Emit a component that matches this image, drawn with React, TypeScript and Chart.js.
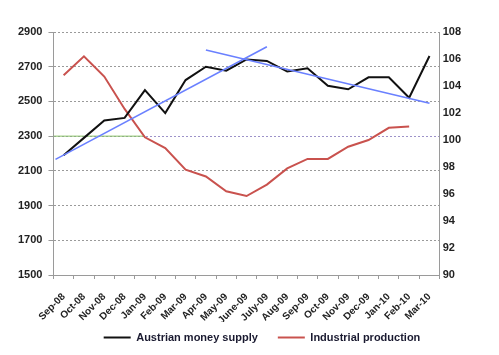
import React, { useEffect, useRef } from "react";
import { Chart, registerables } from "chart.js";

Chart.register(...registerables);

const categories = [
  "Sep-08", "Oct-08", "Nov-08", "Dec-08", "Jan-09", "Feb-09", "Mar-09", "Apr-09",
  "May-09", "June-09", "July-09", "Aug-09", "Sep-09", "Oct-09", "Nov-09", "Dec-09",
  "Jan-10", "Feb-10", "Mar-10",
];

const moneySupply = [
  2190, 2290, 2390, 2405, 2565, 2433, 2623, 2700, 2677, 2742, 2733, 2672, 2691,
  2590, 2570, 2639, 2639, 2521, 2762,
];

const industrialProduction = [
  104.8, 106.2, 104.7, 102.3, 100.2, 99.4, 97.8, 97.3, 96.2, 95.85, 96.7, 97.9,
  98.6, 98.6, 99.5, 100.0, 100.9, 101.0, null,
];

// trend lines (x = category index position, y = money supply)
const trendUp = [
  { x: -0.4, y: 2166 },
  { x: 10, y: 2815 },
];
const trendDown = [
  { x: 7, y: 2796 },
  { x: 18, y: 2490 },
];
const greenBase = [
  { x: -0.5, y: 2300 },
  { x: 4, y: 2300 },
];

const leftTicks = { min: 1500, max: 2900, step: 200 };
const rightTicks = { min: 90, max: 108, step: 2 };

const FONT = "'Liberation Sans', Arial, sans-serif";

const legendShift = {
  id: "legendShift",
  afterLayout(chart: any) {
    const l = chart.legend;
    if (!l) return;
    l.left += 24;
    l.right += 24;
    l.top -= 10;
    l.bottom -= 10;
  },
};

export default function App() {
  const ref = useRef<HTMLCanvasElement | null>(null);

  useEffect(() => {
    if (!ref.current) return;
    const chart = new Chart(ref.current, {
      type: "line",
      plugins: [legendShift],
      data: {
        labels: categories,
        datasets: [
          {
            label: "trend1",
            data: trendUp as any,
            xAxisID: "x2",
            yAxisID: "y",
            borderColor: "#6a80ff",
            borderWidth: 1.6,
            pointRadius: 0,
          },
          {
            label: "trend2",
            data: trendDown as any,
            xAxisID: "x2",
            yAxisID: "y",
            borderColor: "#6a80ff",
            borderWidth: 1.6,
            pointRadius: 0,
          },
          {
            label: "Austrian money supply",
            data: moneySupply,
            xAxisID: "x",
            yAxisID: "y",
            borderColor: "#111111",
            backgroundColor: "#111111",
            borderWidth: 2,
            pointRadius: 0,
          },
          {
            label: "Industrial production",
            data: industrialProduction,
            xAxisID: "x",
            yAxisID: "y1",
            borderColor: "#c9524e",
            backgroundColor: "#c9524e",
            borderWidth: 2,
            pointRadius: 0,
          },
          {
            label: "base",
            data: greenBase as any,
            xAxisID: "x2",
            yAxisID: "y",
            borderColor: "#86c060",
            borderWidth: 1,
            pointRadius: 0,
          },
        ],
      },
      options: {
        animation: false,
        responsive: false,
        maintainAspectRatio: false,
        layout: { padding: { left: 12, right: 35, top: 32, bottom: 0 } },
        plugins: {
          tooltip: { enabled: false },
          legend: {
            position: "bottom",
            maxHeight: 33,
            labels: {
              filter: (item) =>
                item.text === "Austrian money supply" || item.text === "Industrial production",
              usePointStyle: true,
              pointStyle: "line",
              pointStyleWidth: 27,
              padding: 20,
              color: "#1a1a30",
              font: { family: FONT, size: 11, weight: "bold" },
            },
          },
        },
        scales: {
          x: {
            type: "category",
            offset: true,
            afterFit: (scale: any) => {
              scale.height = 47;
            },
            grid: {
              display: true,
              drawOnChartArea: false,
              drawTicks: true,
              tickLength: 4,
              offset: true,
              color: "#9a9a9a",
            },
            border: { color: "#9a9a9a" },
            ticks: {
              autoSkip: false,
              minRotation: 45,
              maxRotation: 45,
              padding: 12,
              color: "#222",
              font: { family: FONT, size: 10, weight: "bold" },
            },
          },
          x2: {
            type: "linear",
            display: false,
            min: -0.5,
            max: categories.length - 0.5,
          },
          y: {
            type: "linear",
            position: "left",
            min: leftTicks.min,
            max: leftTicks.max,
            ticks: {
              stepSize: leftTicks.step,
              padding: 6,
              color: "#222",
              font: { family: FONT, size: 11, weight: "bold" },
              callback: (v: any) => String(v),
            },
            grid: {
              color: (ctx: any) =>
                ctx.tick && ctx.tick.value === 2300 ? "#9d92c9" : "#9a9a9a",
              tickColor: "#9a9a9a",
              tickLength: 5,
            },
            border: { color: "#9a9a9a", dash: [2, 2] },
          },
          y1: {
            type: "linear",
            position: "right",
            min: rightTicks.min,
            max: rightTicks.max,
            ticks: {
              stepSize: rightTicks.step,
              padding: 3,
              color: "#222",
              font: { family: FONT, size: 11, weight: "bold" },
              callback: (v: any) => String(v),
            },
            grid: { drawOnChartArea: false, drawTicks: false },
            border: { color: "#9a9a9a" },
          },
        },
      },
    });
    return () => chart.destroy();
  }, []);

  return (
    <div style={{ position: "absolute", left: 0, top: 0, width: 499, height: 355, background: "#fff" }}>
      <canvas ref={ref} width={499} height={355} style={{ width: 499, height: 355 }} />
    </div>
  );
}
